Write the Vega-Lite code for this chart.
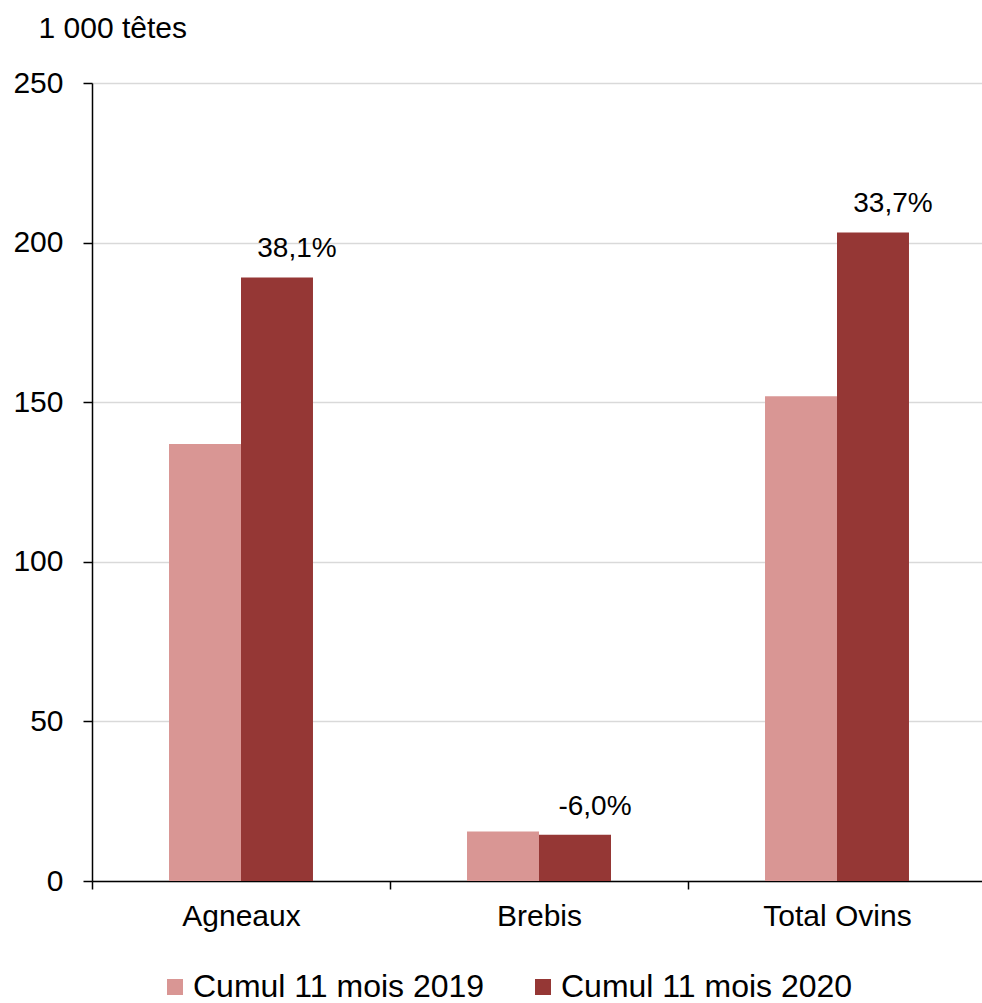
{
  "$schema": "https://vega.github.io/schema/vega-lite/v6.json",
  "width": 894,
  "height": 798,
  "autosize": {"type": "none"},
  "padding": {"left": 92, "top": 83, "right": 0, "bottom": 122},
  "background": "white",
  "config": {
    "font": "Liberation Sans",
    "view": {"stroke": null},
    "axis": {"labelFont": "Liberation Sans", "titleFont": "Liberation Sans", "labelColor": "black", "titleColor": "black"},
    "legend": {"labelFont": "Liberation Sans"}
  },
  "data": {
    "values": [
      {"cat": "Agneaux", "year": "Cumul 11 mois 2019", "value": 136.9, "label": null},
      {"cat": "Agneaux", "year": "Cumul 11 mois 2020", "value": 189.1, "label": "38,1%"},
      {"cat": "Brebis", "year": "Cumul 11 mois 2019", "value": 15.5, "label": null},
      {"cat": "Brebis", "year": "Cumul 11 mois 2020", "value": 14.5, "label": "-6,0%"},
      {"cat": "Total Ovins", "year": "Cumul 11 mois 2019", "value": 151.9, "label": null},
      {"cat": "Total Ovins", "year": "Cumul 11 mois 2020", "value": 203.2, "label": "33,7%"}
    ]
  },
  "encoding": {
    "x": {
      "field": "cat", "type": "nominal", "sort": ["Agneaux", "Brebis", "Total Ovins"],
      "scale": {"paddingInner": 0, "paddingOuter": 0},
      "axis": {
        "title": null, "labelAngle": 0, "labelFontSize": 30, "labelPadding": 12,
        "tickBand": "extent", "tickSize": 8, "tickColor": "black", "domainColor": "black",
        "domainWidth": 1.5, "tickWidth": 1.5, "grid": false
      }
    },
    "xOffset": {
      "field": "year", "type": "nominal",
      "scale": {"domain": ["_gauche", "Cumul 11 mois 2019", "Cumul 11 mois 2020", "_droite"], "paddingInner": 0, "paddingOuter": 0.07}
    },
    "y": {
      "field": "value", "type": "quantitative",
      "scale": {"domain": [0, 250], "nice": false},
      "axis": {
        "values": [0, 50, 100, 150, 200, 250],
        "title": "1 000 têtes", "titleAngle": 0, "titleAlign": "left", "titleBaseline": "alphabetic",
        "titleX": -54, "titleY": -46, "titleFontSize": 30, "titleFontWeight": "normal",
        "labelFontSize": 30, "labelPadding": 20, "tickSize": 9, "tickColor": "black", "tickWidth": 1.5,
        "domainColor": "black", "domainWidth": 1.5,
        "gridColor": "#d9d9d9", "gridWidth": 1.5
      }
    }
  },
  "layer": [
    {
      "mark": {"type": "bar"},
      "encoding": {
        "color": {
          "field": "year", "type": "nominal",
          "scale": {"domain": ["Cumul 11 mois 2019", "Cumul 11 mois 2020"], "range": ["#d99694", "#953735"]},
          "legend": {
            "title": null, "orient": "none", "direction": "horizontal",
            "legendX": 67, "legendY": 888,
            "symbolType": "square", "symbolSize": 256, "symbolStrokeWidth": 0,
            "labelFontSize": 32, "labelOffset": 2, "columnPadding": 42, "labelColor": "black",
            "labelLimit": 0
          }
        }
      }
    },
    {
      "transform": [{"filter": "datum.label != null"}],
      "mark": {"type": "text", "fontSize": 28, "dx": 20, "dy": -20, "baseline": "alphabetic", "color": "black"},
      "encoding": {"text": {"field": "label"}}
    }
  ]
}
